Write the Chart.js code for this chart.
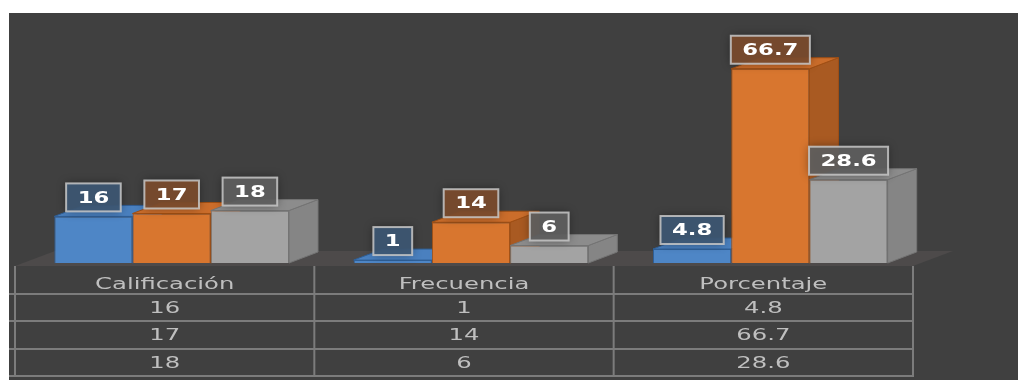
<!DOCTYPE html>
<html>
<head>
<meta charset="utf-8">
<script src="https://cdn.jsdelivr.net/npm/chart.js@4/dist/chart.umd.min.js"></script>
<style>
  html, body { margin: 0; padding: 0; background: #ffffff; }
  #wrap { width: 1018px; height: 380px; }
</style>
</head>
<body>
<div id="wrap"><canvas id="c" width="1018" height="380"></canvas></div>
<script>
// Chart data
const categories = ['Calificación', 'Frecuencia', 'Porcentaje'];
const serie1 = [16, 1, 4.8];
const serie2 = [17, 14, 66.7];
const serie3 = [18, 6, 28.6];

// Face colours per series: front, top, side, edge, label box
const palette = [
  { front: '#4e86c6', top: '#4a80bf', side: '#3d6ea9', edge: '#2f5f97', box: 'rgba(62,88,116,0.92)' },
  { front: '#d8762f', top: '#cb6d2b', side: '#a95a22', edge: '#a04f14', box: 'rgba(124,76,46,0.92)' },
  { front: '#a3a3a3', top: '#8c8c8c', side: '#858585', edge: '#747474', box: 'rgba(96,96,96,0.92)' }
];

const DEPTH_X = 29, DEPTH_Y = -11;      // oblique depth of each bar
const FLOOR_X = 40, FLOOR_Y = -15;      // depth of the floor
const SET_BACK_X = 7, SET_BACK_Y = 3;   // bars sit slightly behind the floor's front edge

function scaledText(ctx, text, x, y, font, sx, color, baseline) {
  ctx.save();
  ctx.font = font;
  ctx.fillStyle = color;
  ctx.textAlign = 'center';
  ctx.textBaseline = baseline || 'alphabetic';
  ctx.translate(x, y);
  ctx.scale(sx, 1);
  ctx.fillText(text, 0, 0);
  ctx.restore();
}

function poly(ctx, pts, fill, stroke) {
  ctx.beginPath();
  ctx.moveTo(pts[0][0], pts[0][1]);
  for (let i = 1; i < pts.length; i++) ctx.lineTo(pts[i][0], pts[i][1]);
  ctx.closePath();
  ctx.fillStyle = fill;
  ctx.fill();
  if (stroke) { ctx.strokeStyle = stroke; ctx.lineWidth = 1; ctx.stroke(); }
}

const scene = {
  id: 'scene',
  beforeDraw(chart) {
    const ctx = chart.ctx;
    ctx.save();
    ctx.fillStyle = '#ffffff';
    ctx.fillRect(0, 0, chart.width, chart.height);
    ctx.fillStyle = '#404040';
    ctx.fillRect(9, 13, chart.width - 9, chart.height - 13);
    ctx.restore();
  },
  beforeDatasetsDraw(chart) {
    const ctx = chart.ctx;
    const area = chart.chartArea;
    const xs = chart.scales.x;
    const half = (xs.getPixelForValue(1) - xs.getPixelForValue(0)) / 2;
    const left = xs.getPixelForValue(0) - half - SET_BACK_X;
    const right = xs.getPixelForValue(categories.length - 1) + half - SET_BACK_X;
    const fy = area.bottom + SET_BACK_Y;
    ctx.save();
    // floor
    poly(ctx, [[left, fy], [right, fy], [right + FLOOR_X, fy + FLOOR_Y], [left + FLOOR_X, fy + FLOOR_Y]], '#4d4a4a');
    // side and top faces, left to right so neighbours overlap correctly
    for (let c = 0; c < categories.length; c++) {
      chart.data.datasets.forEach((ds, d) => {
        const bar = chart.getDatasetMeta(d).data[c];
        const p = bar.getProps(['x', 'y', 'base', 'width'], true);
        const l = p.x - p.width / 2, r = p.x + p.width / 2;
        const col = palette[d];
        poly(ctx, [[r, p.base], [r + DEPTH_X, p.base + DEPTH_Y], [r + DEPTH_X, p.y + DEPTH_Y], [r, p.y]], col.side, col.edge);
        poly(ctx, [[l, p.y], [r, p.y], [r + DEPTH_X, p.y + DEPTH_Y], [l + DEPTH_X, p.y + DEPTH_Y]], col.top, col.edge);
      });
    }
    ctx.restore();
  },
  afterDatasetsDraw(chart) {
    const ctx = chart.ctx;
    const font = 'bold 16px "DejaVu Sans"';
    const sx = 1.42;
    chart.data.datasets.forEach((ds, d) => {
      chart.getDatasetMeta(d).data.forEach((bar, i) => {
        const p = bar.getProps(['x', 'y'], true);
        const txt = String(ds.data[i]);
        ctx.save();
        ctx.font = font;
        const w = ctx.measureText(txt).width * sx + 23;
        const h = 28;
        const bx = p.x - w / 2, by = p.y - 5 - h;
        ctx.shadowColor = 'rgba(0,0,0,0.45)';
        ctx.shadowBlur = 10;
        ctx.fillStyle = palette[d].box;
        ctx.fillRect(bx, by, w, h);
        ctx.shadowColor = 'transparent';
        ctx.strokeStyle = 'rgba(200,200,200,0.85)';
        ctx.lineWidth = 2;
        ctx.strokeRect(bx, by, w, h);
        ctx.restore();
        scaledText(ctx, txt, p.x, by + h / 2 + 1, font, sx, '#ffffff', 'middle');
      });
    });
  },
  afterDraw(chart) {
    // data table under the plot
    const ctx = chart.ctx;
    const area = chart.chartArea;
    const xs = chart.scales.x;
    const half = (xs.getPixelForValue(1) - xs.getPixelForValue(0)) / 2;
    const top = area.bottom + SET_BACK_Y;
    const rowH = 27.6;
    const rows = chart.data.datasets.length + 1;
    const bottom = top + rowH * rows;
    const colEdges = [];
    for (let c = 0; c < categories.length; c++) colEdges.push(xs.getPixelForValue(c) - half - SET_BACK_X);
    colEdges.push(xs.getPixelForValue(categories.length - 1) + half - SET_BACK_X);
    ctx.save();
    ctx.strokeStyle = '#7c7c7c';
    ctx.lineWidth = 2;
    ctx.beginPath();
    for (let r = 1; r <= rows; r++) {
      const y = Math.round(top + rowH * r) ;
      ctx.moveTo(9, y);
      ctx.lineTo(colEdges[colEdges.length - 1] + 1, y);
    }
    colEdges.forEach(x => {
      ctx.moveTo(x, top);
      ctx.lineTo(x, bottom);
    });
    ctx.stroke();
    ctx.restore();
    const font = '15px "DejaVu Sans"';
    const sx = 1.62;
    const color = '#bfbfbf';
    categories.forEach((cat, c) => {
      const cx = xs.getPixelForValue(c) - SET_BACK_X;
      scaledText(ctx, cat, cx, top + rowH - 4.5, font, sx, color);
      chart.data.datasets.forEach((ds, d) => {
        scaledText(ctx, String(ds.data[c]), cx, top + rowH * (d + 2) - 8.5, font, sx, color);
      });
    });
  }
};

new Chart(document.getElementById('c'), {
  type: 'bar',
  data: {
    labels: categories,
    datasets: [
      { label: 'Serie 1', data: serie1 },
      { label: 'Serie 2', data: serie2 },
      { label: 'Serie 3', data: serie3 }
    ].map((ds, d) => Object.assign(ds, {
      backgroundColor: palette[d].front,
      borderColor: palette[d].edge,
      borderWidth: 1,
      categoryPercentage: 0.784,
      barPercentage: 1.0
    }))
  },
  options: {
    responsive: false,
    animation: false,
    events: [],
    layout: { padding: { left: 22, right: 98, top: 30, bottom: 117 } },
    plugins: { legend: { display: false }, tooltip: { enabled: false }, title: { display: false } },
    scales: {
      x: { display: false, grid: { display: false } },
      y: { display: false, min: 0, max: 80, grid: { display: false } }
    }
  },
  plugins: [scene]
});
</script>
</body>
</html>
